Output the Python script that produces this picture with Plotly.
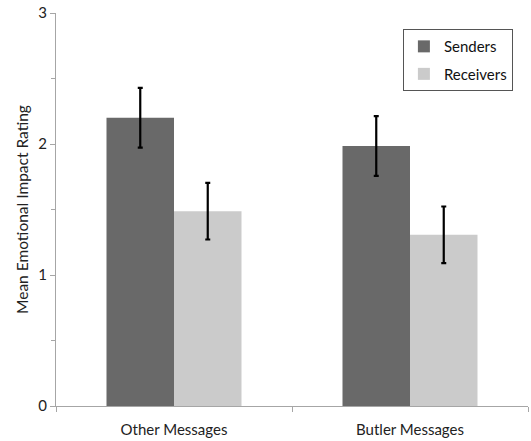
import plotly.graph_objects as go

categories = ["Other Messages", "Butler Messages"]
senders = [2.20, 1.985]
senders_err = [0.228, 0.228]
receivers = [1.487, 1.307]
receivers_err = [0.216, 0.216]
y_ticks = [0, 1, 2, 3]

font_family = "Lato, Open Sans, sans-serif"

fig = go.Figure()
fig.add_trace(go.Bar(
    name="Senders", x=categories, y=senders, legendgroup="s",
    marker=dict(color="#696969", line=dict(width=0)),
    error_y=dict(type="data", array=senders_err, color="black", thickness=2.2, width=2.5),
))
fig.add_trace(go.Bar(
    name="Receivers", x=categories, y=receivers, legendgroup="r",
    marker=dict(color="#cbcbcb", line=dict(width=0)),
    error_y=dict(type="data", array=receivers_err, color="black", thickness=2.2, width=2.5),
))

fig.update_layout(
    width=531, height=441,
    margin=dict(l=56, r=3, t=13, b=35, autoexpand=False),
    barmode="group", bargap=0.428, bargroupgap=0,
    plot_bgcolor="white", paper_bgcolor="white",
    font=dict(family=font_family, size=15, color="#222222"),
    showlegend=True,
    legend=dict(
        x=0.968, y=0.959, xanchor="right", yanchor="top",
        bordercolor="#555555", borderwidth=1, bgcolor="white",
        font=dict(size=15, color="#111111"),
        traceorder="grouped", tracegroupgap=5, itemsizing="constant", itemwidth=30,
    ),
    xaxis=dict(
        automargin=False,
        showline=True, linecolor="#a6a6a6", linewidth=1,
        ticks="outside", tickson="boundaries", ticklen=5, tickcolor="#a6a6a6",
        showgrid=False, tickfont=dict(size=15, color="#222222"), ticklabelstandoff=10,
    ),
    yaxis=dict(
        automargin=False,
        range=[0, 3], tickvals=y_ticks, showline=True, linecolor="#a6a6a6", linewidth=1,
        ticks="outside", ticklen=5, tickcolor="#a6a6a6", showgrid=False, zeroline=False,
        tickfont=dict(size=15, color="#222222"), ticklabeloverflow="allow",
        minor=dict(dtick=0.5, ticks="outside", ticklen=4, tickcolor="#a6a6a6", showgrid=False),
        title=dict(text="Mean Emotional Impact Rating", font=dict(size=15.5, color="#222222"), standoff=5),
    ),
)

fig.write_html(
    "out.html",
    config={"displayModeBar": False},
    post_script="document.body.style.margin='0';",
)
